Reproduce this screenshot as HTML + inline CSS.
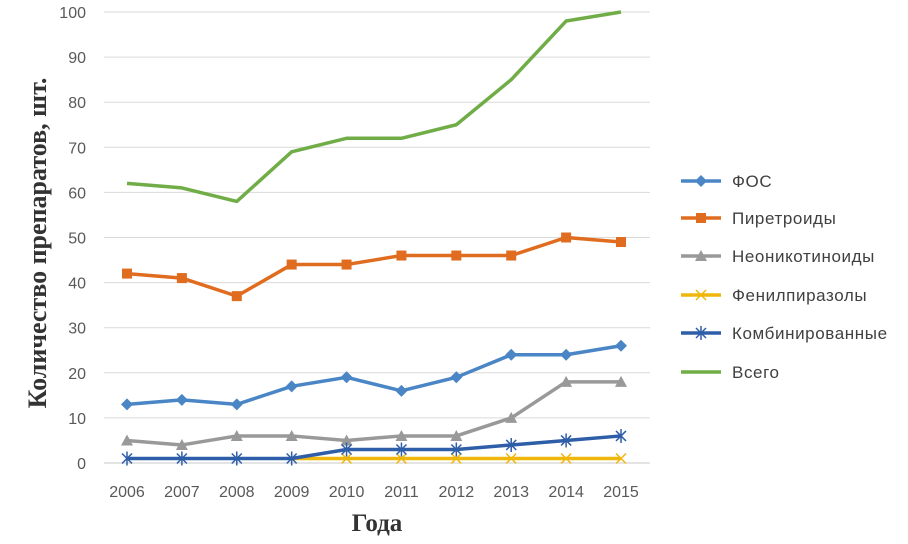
<!DOCTYPE html>
<html><head><meta charset="utf-8"><style>
body{margin:0;background:#fff;}
svg{display:block;font-family:"Liberation Sans",sans-serif;}
</style></head><body>
<svg id="chart" width="908" height="544">
<g id="grid"></g>
<g id="yt"></g>
<g id="xt"></g>
<g id="series"></g>
<g id="legend"></g>
<text transform="translate(46,243) rotate(-90)" text-anchor="middle" font-family="Liberation Serif,serif" font-weight="bold" font-size="26" fill="#333">Количество препаратов, шт.</text>
<text x="377" y="531" text-anchor="middle" font-family="Liberation Serif,serif" font-weight="bold" font-size="25" fill="#333">Года</text>
</svg>
<script>
const years=["2006","2007","2008","2009","2010","2011","2012","2013","2014","2015"];
const yTicks=[0,10,20,30,40,50,60,70,80,90,100];
const fos=[13,14,13,17,19,16,19,24,24,26];
const pyr=[42,41,37,44,44,46,46,46,50,49];
const neo=[5,4,6,6,5,6,6,10,18,18];
const phen=[null,null,null,1,1,1,1,1,1,1];
const comb=[1,1,1,1,3,3,3,4,5,6];
const total=[62,61,58,69,72,72,75,85,98,100];
const names=["ФОС","Пиретроиды","Неоникотиноиды","Фенилпиразолы","Комбинированные","Всего"];
const NS="http://www.w3.org/2000/svg";
const X=i=>127+i*(621-127)/9;
const Y=v=>463-v*4.51;
function mk(t,a,p){const e=document.createElementNS(NS,t);for(const k in a)e.setAttribute(k,a[k]);p.appendChild(e);return e;}
const grid=document.getElementById('grid'),yt=document.getElementById('yt'),xt=document.getElementById('xt');
yTicks.forEach(v=>{
 const l=mk('line',{x1:104,x2:650,y1:Y(v),y2:Y(v),stroke:v===0?'#c8c8c8':'#dadada','stroke-width':1},grid);
 
 
 const t=mk('text',{x:86,y:Y(v)+6,'text-anchor':'end','font-size':16,fill:'#595959'},yt);
 t.textContent=v;
 
 
});
years.forEach((y,i)=>{
 const t=mk('text',{x:X(i),y:497,'text-anchor':'middle','font-size':16,fill:'#595959'},xt);
 t.textContent=y;
 
 
});
function marker(type,x,y,c,p){
 if(type==='d')return mk('path',{d:`M${x} ${y-6}L${x+6} ${y}L${x} ${y+6}L${x-6} ${y}Z`,fill:c},p);
 if(type==='s')return mk('rect',{x:x-5,y:y-5,width:10,height:10,fill:c},p);
 if(type==='t')return mk('path',{d:`M${x} ${y-6}L${x+6} ${y+5}L${x-6} ${y+5}Z`,fill:c},p);
 if(type==='x')return mk('path',{d:`M${x-5} ${y-5}L${x+5} ${y+5}M${x+5} ${y-5}L${x-5} ${y+5}`,stroke:c,'stroke-width':1.5,fill:'none'},p);
 if(type==='a')return mk('path',{d:`M${x-5} ${y-5}L${x+5} ${y+5}M${x+5} ${y-5}L${x-5} ${y+5}M${x} ${y-7}L${x} ${y+7}`,stroke:c,'stroke-width':1.5,fill:'none'},p);
}
const S=[[fos,'#4a86c5','d'],[pyr,'#e06c1f','s'],[neo,'#999999','t'],[phen,'#efb70b','x'],[comb,'#2f5ea8','a'],[total,'#70ad47',null]];
const sg=document.getElementById('series'),lg=document.getElementById('legend');
const order=[5,1,2,0,3,4];
order.forEach(k=>{
 const [d,c,m]=S[k];
 const g=mk('g',{},sg);
 
 
 let pts=[];d.forEach((v,i)=>{if(v!=null)pts.push(X(i)+','+Y(v));});
 mk('polyline',{points:pts.join(' '),fill:'none',stroke:c,'stroke-width':3.5,'stroke-linejoin':'round'},g);
 if(m)d.forEach((v,i)=>{if(v!=null&&!(k===3&&i<4)){const e=marker(m,X(i),Y(v),c,g);}});
});
const ly=[181,218,256,295,333,372];
S.forEach(([d,c,m],k)=>{
 const g=mk('g',{},lg);
 
 
 mk('line',{x1:681,x2:721,y1:ly[k],y2:ly[k],stroke:c,'stroke-width':3.5},g);
 if(m)marker(m,701,ly[k],c,g);
 const t=mk('text',{x:732,y:ly[k]+6,'font-size':17,'letter-spacing':0.6,fill:'#404040'},g);
 t.textContent=names[k];
});
</script>
</body></html>
